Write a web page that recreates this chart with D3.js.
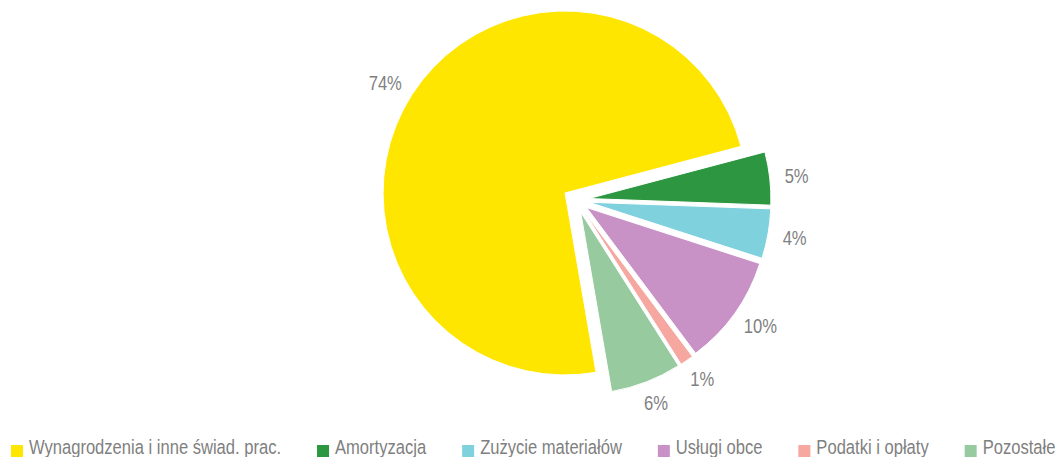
<!DOCTYPE html>
<html>
<head>
<meta charset="utf-8" />
<style>

body {
    margin: 0;
    background-color: #FFF;
}

#chart text {
    font-family: "Liberation Sans", Arial, sans-serif;
    fill: #7F7F7F;
}

</style>
<title>koszty</title>
</head>

<body>
<div id="chart"></div>

<script src="https://d3js.org/d3.v7.min.js"></script>
<script>

// categories and values (share of costs, %)
var categories = ["Wynagrodzenia i inne świad. prac.", "Amortyzacja", "Zużycie materiałów",
                  "Usługi obce", "Podatki i opłaty", "Pozostałe"];
var values = [73.6, 4.7, 4.4, 9.8, 1.2, 6.3];
var colors = ["#FFE600", "#2C9640", "#7ED1DD", "#C892C7", "#F5A7A0", "#98CAA0"];

var width = 1059, height = 457;
var cx = 576, cy = 200, radius = 182, explode = 13;
var firstAngle = 170.2 * Math.PI / 180;

// no narrow font installed -> squeeze the regular one
var labelScale = 0.83, legendScale = 0.85;

var svg = d3.select("#chart").append("svg")
        .attr("width", width)
        .attr("height", height);

var total = d3.sum(values);

var pie = d3.pie()
        .sort(null)
        .startAngle(firstAngle)
        .endAngle(firstAngle + 2 * Math.PI);

var arc = d3.arc().innerRadius(0).outerRadius(radius);

var arcs = pie(values);

//direction of each slice (0 = up, clockwise)
function dir(d) {
    var a = (d.startAngle + d.endAngle) / 2;
    return [Math.sin(a), -Math.cos(a)];
}

var slices = svg.append("g").selectAll("g.slice")
        .data(arcs)
        .enter()
        .append("g")
        .attr("class", "slice")
        .attr("transform", function(d) {
            var u = dir(d);
            return "translate(" + (cx + explode * u[0]) + "," + (cy + explode * u[1]) + ")";
        });

slices.append("path")
        .attr("d", arc)
        .attr("fill", function(d, i) { return colors[i]; })
        .attr("stroke", "#FFF")
        .attr("stroke-width", 1);

// percentage labels outside the slices
slices.append("text")
        .attr("font-size", "20px")
        .attr("text-anchor", "middle")
        .attr("dy", "0.35em")
        .text(function(d) { return Math.round(d.value / total * 100) + "%"; })
        .attr("transform", function(d) {
            var u = dir(d), w = this.getComputedTextLength() * labelScale;
            var x = (radius + 15) * u[0] + (w / 2) * u[0],
                y = (radius + 15) * u[1] + 7.5 * u[1];
            return "translate(" + x + "," + y + ") scale(" + labelScale + ",1)";
        });

// legend
var legend = svg.append("g").attr("transform", "translate(11,445)");
var lx = 0;
categories.forEach(function(c, i) {
    var item = legend.append("g").attr("transform", "translate(" + lx + ",0)");
    item.append("rect")
        .attr("width", 12)
        .attr("height", 12)
        .attr("fill", colors[i]);
    var t = item.append("text")
        .attr("transform", "translate(18,9) scale(" + legendScale + ",1)")
        .attr("font-size", "19.5px")
        .text(c);
    lx += 18 + t.node().getComputedTextLength() * legendScale + 36;
});

</script>
</body>
</html>
